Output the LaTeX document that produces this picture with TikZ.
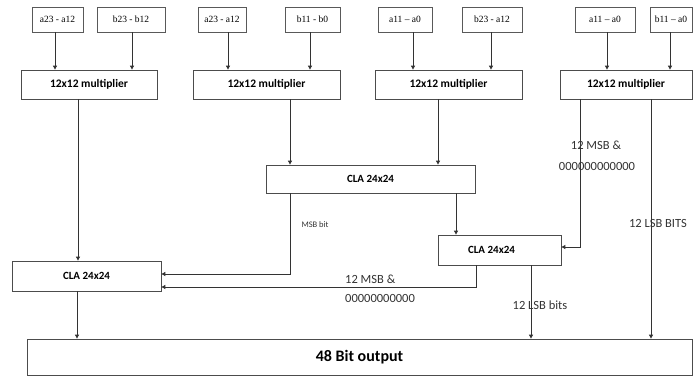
\documentclass[tikz,border=0pt]{standalone}
\usepackage{fontspec}
\setmainfont{Carlito}
\newfontfamily\inputfont{Liberation Serif}
\usetikzlibrary{positioning,calc,arrows.meta}

\tikzset{
    inbox/.style={draw=black!65, line width=0.8pt, minimum height=25pt, inner sep=1pt, font=\inputfont\fontsize{9.5}{10}\selectfont},
    unit/.style={draw=black!70, line width=0.8pt, minimum height=29pt, inner sep=1pt, font=\bfseries\fontsize{11.5}{13}\selectfont},
    adder/.style={unit, minimum height=30pt, font=\bfseries\fontsize{11}{13}\selectfont},
    note/.style={inner sep=0pt, text=black!80, font=\fontsize{12.5}{14}\selectfont},
    wire/.style={draw=black!80, line width=0.9pt, -{Triangle[length=4pt,width=4pt]}}
}

\begin{document}
\begin{tikzpicture}[x=1pt, y=-1pt]
    \useasboundingbox (0,0) rectangle (693,376);

    % Input words
    \node[inbox, minimum width=51pt] (in1) at (57.5,19.5) {a23 - a12};
    \node[inbox, minimum width=68pt] (in2) at (131,19.5) {b23 - b12};
    \node[inbox, minimum width=48pt] (in3) at (222,19.5) {a23 - a12};
    \node[inbox, minimum width=55pt] (in4) at (312.5,19.5) {b11 - b0};
    \node[inbox, minimum width=54pt] (in5) at (405,19.5) {a11 – a0};
    \node[inbox, minimum width=60pt] (in6) at (492,19.5) {b23 - a12};
    \node[inbox, minimum width=60pt] (in7) at (605,19.5) {a11 – a0};
    \node[inbox, minimum width=42pt] (in8) at (671,19.5) {b11 – a0};

    % Multipliers
    \node[unit, minimum width=136pt] (m1) at (89,84.5) {12x12 multiplier};
    \node[unit, minimum width=147pt] (m2) at (266.5,84.5) {12x12 multiplier};
    \node[unit, minimum width=147pt] (m3) at (448.5,84.5) {12x12 multiplier};
    \node[unit, minimum width=132pt] (m4) at (626,84.5) {12x12 multiplier};

    % Adders
    \node[adder, minimum width=209pt, minimum height=28pt] (cla1) at (370.5,179) {CLA 24x24};
    \node[adder, minimum width=123pt] (cla2) at (499.5,250) {\hspace*{-16pt}CLA 24x24};
    \node[adder, minimum width=149pt] (cla3) at (86.5,276) {CLA 24x24};

    % Output
    \node[unit, minimum width=665pt, minimum height=36pt, font=\bfseries\fontsize{16}{18}\selectfont] (out) at (359.5,357) {48 Bit output};

    % Inputs to multipliers
    \draw[wire] ([xshift=-2.5pt]in1.south) -- ([xshift=-2.5pt]in1.south |- m1.north);
    \draw[wire] ([xshift=1pt]in2.south) -- ([xshift=1pt]in2.south |- m1.north);
    \draw[wire] ([xshift=6pt]in3.south) -- ([xshift=6pt]in3.south |- m2.north);
    \draw[wire] ([xshift=-2.5pt]in4.south) -- ([xshift=-2.5pt]in4.south |- m2.north);
    \draw[wire] ([xshift=8pt]in5.south) -- ([xshift=8pt]in5.south |- m3.north);
    \draw[wire] ([xshift=-1pt]in6.south) -- ([xshift=-1pt]in6.south |- m3.north);
    \draw[wire] ([xshift=2pt]in7.south) -- ([xshift=2pt]in7.south |- m4.north);
    \draw[wire] ([xshift=-1pt]in8.south) -- ([xshift=-1pt]in8.south |- m4.north);

    % Multipliers to adders
    \draw[wire] ([xshift=-11pt]m1.south) -- ([xshift=-11pt]m1.south |- cla3.north);
    \draw[wire] ([xshift=23.5pt]m2.south) -- ([xshift=23.5pt]m2.south |- cla1.north);
    \draw[wire] ([xshift=-10.5pt]m3.south) -- ([xshift=-10.5pt]m3.south |- cla1.north);
    \draw[wire] ([xshift=-46pt]m4.south) |- ([yshift=3pt]cla2.east);
    \draw[wire] ([xshift=25pt]m4.south) -- ([xshift=25pt]m4.south |- out.north);

    % Adder chain
    \draw[wire] ([xshift=-80.5pt]cla1.south) |- ([yshift=2pt]cla3.east);
    \draw[wire] ([xshift=85.5pt]cla1.south) -- ([xshift=85.5pt]cla1.south |- cla2.north);
    \draw[wire] ([xshift=-23.5pt]cla2.south) |- ([yshift=-11pt]cla3.east);
    \draw[wire] ([xshift=31.5pt]cla2.south) -- ([xshift=31.5pt]cla2.south |- out.north);
    \draw[wire] ([xshift=-9.5pt]cla3.south) -- ([xshift=-9.5pt]cla3.south |- out.north);

    % Labels
    \node[note, font=\fontsize{8.5}{9}\selectfont] (msbbit) at (315,225) {MSB bit};
    \node[note] (msbA) at (596,145) {12 MSB \&};
    \node[note] (zerosA) at (597,166) {000000000000};
    \node[note] (lsbA) at (658,223) {12 LSB BITS};
    \node[note, anchor=west] (msbB) at (345,279) {12 MSB \&};
    \node[note, anchor=west] (zerosB) at (345,298) {00000000000};
    \node[note] (lsbB) at (540,305) {12 LSB bits};
\end{tikzpicture}
\end{document}
